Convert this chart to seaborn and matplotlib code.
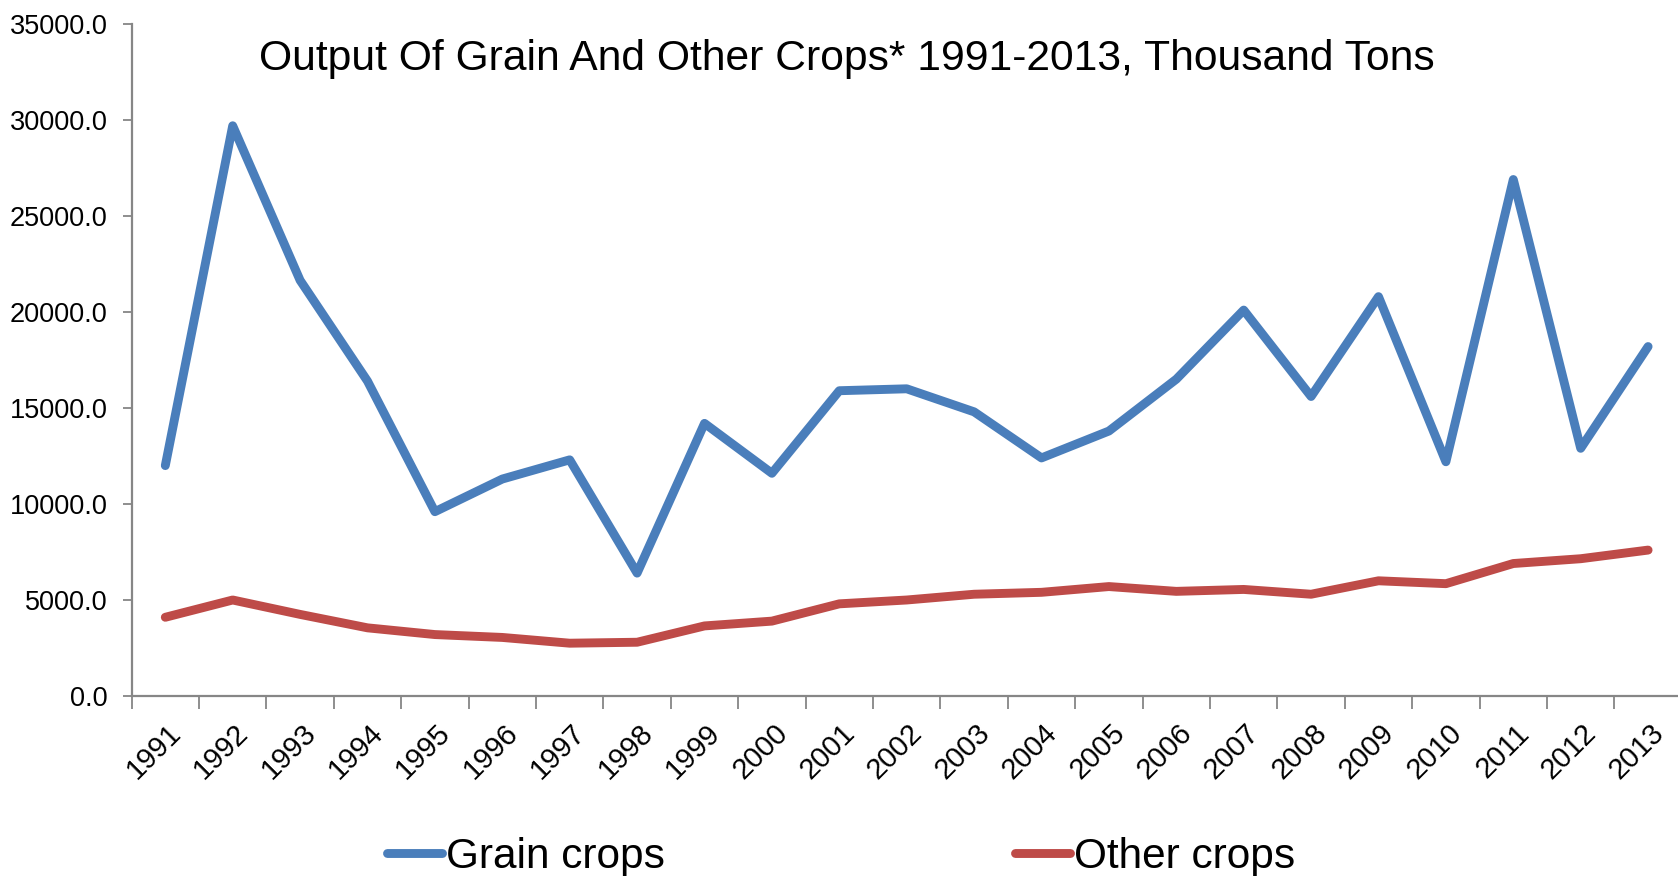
import matplotlib
matplotlib.use("Agg")
import matplotlib.pyplot as plt
import matplotlib.transforms as mtransforms
from matplotlib.ticker import FixedLocator, MultipleLocator, FuncFormatter
import numpy as np
import pandas as pd
import seaborn as sns

# Output by year, thousand tons
years = [str(y) for y in range(1991, 2014)]
grain_crops = [12000, 29700, 21650, 16400, 9600, 11300, 12300, 6400, 14200, 11600,
               15900, 16000, 14800, 12400, 13800, 16500, 20100, 15600, 20800, 12200,
               26900, 12900, 18200]
other_crops = [4100, 5000, 4250, 3550, 3200, 3050, 2750, 2800, 3650, 3900,
               4800, 5000, 5300, 5400, 5700, 5450, 5550, 5300, 6000, 5850,
               6900, 7150, 7600]
series_names = ["Grain crops", "Other crops"]
series_colors = ["#4A7EBB", "#BE4B48"]
title = "Output Of Grain And Other Crops* 1991-2013, Thousand Tons"

sns.set_theme(style="white")
plt.rcParams["font.family"] = ["Liberation Sans", "DejaVu Sans"]
plt.rcParams["text.color"] = "black"

pos = np.arange(len(years))
df = pd.DataFrame({
    "pos": np.concatenate([pos, pos]),
    "value": grain_crops + other_crops,
    "series": [series_names[0]] * len(years) + [series_names[1]] * len(years),
})

W, H, DPI = 1678, 876, 100
fig = plt.figure(figsize=(W / DPI, H / DPI), dpi=DPI)
ax_left, ax_right = 131.6 / W, (131.6 + 23 * 67.4) / W
ax_bottom, ax_top = 1 - 696 / H, 1 - 24 / H
ax = fig.add_axes([ax_left, ax_bottom, ax_right - ax_left, ax_top - ax_bottom])

sns.lineplot(data=df, x="pos", y="value", hue="series", hue_order=series_names,
             palette=dict(zip(series_names, series_colors)), linewidth=6.4,
             sort=False, ax=ax, legend=False)
for line in ax.get_lines():
    line.set_solid_capstyle("round")
    line.set_solid_joinstyle("round")

ax.set_xlim(-0.5, len(years) - 0.5)
ax.set_ylim(0, 35000)
ax.set_xlabel("")
ax.set_ylabel("")

axis_grey = "#868686"
for side in ("top", "right"):
    ax.spines[side].set_visible(False)
for side in ("left", "bottom"):
    ax.spines[side].set_color(axis_grey)
    ax.spines[side].set_linewidth(1.6)

# y axis
ax.yaxis.set_major_locator(MultipleLocator(5000))
ax.yaxis.set_major_formatter(FuncFormatter(lambda v, p: f"{v:.1f}"))
ax.tick_params(axis="y", which="major", direction="out", length=6.2, width=1.3,
               color=axis_grey, pad=11, labelsize=19.5, labelcolor="black", left=True)

# x axis: tick marks between categories, labels at category centres
ax.xaxis.set_major_locator(FixedLocator(pos))
ax.set_xticklabels(years)
ax.xaxis.set_minor_locator(FixedLocator(np.arange(-0.5, len(years), 1.0)))
ax.tick_params(axis="x", which="major", length=0, pad=16.5, labelsize=21, labelcolor="black")
ax.tick_params(axis="x", which="minor", direction="out", length=9, width=1.3,
               color=axis_grey, bottom=True)
offset = mtransforms.ScaledTranslation(1 / 72, 0, fig.dpi_scale_trans)
for lbl in ax.get_xticklabels():
    lbl.set_rotation(45)
    lbl.set_ha("right")
    lbl.set_va("top")
    lbl.set_rotation_mode("anchor")
    lbl.set_transform(lbl.get_transform() + offset)

fig.text(847 / W, 1 - 70 / H, title, ha="center", va="baseline", fontsize=30.7, color="black")

handles = [plt.Line2D([], [], color=c, linewidth=6.4, solid_capstyle="round") for c in series_colors]
fig.legend(handles, series_names, loc="center", bbox_to_anchor=(841 / W, 1 - 857 / H),
           ncol=2, frameon=False, fontsize=30.5, handlelength=1.3, handletextpad=0.1,
           columnspacing=8.25, borderaxespad=0, labelcolor="black")

fig.savefig("out.png", dpi=DPI, facecolor="white")
